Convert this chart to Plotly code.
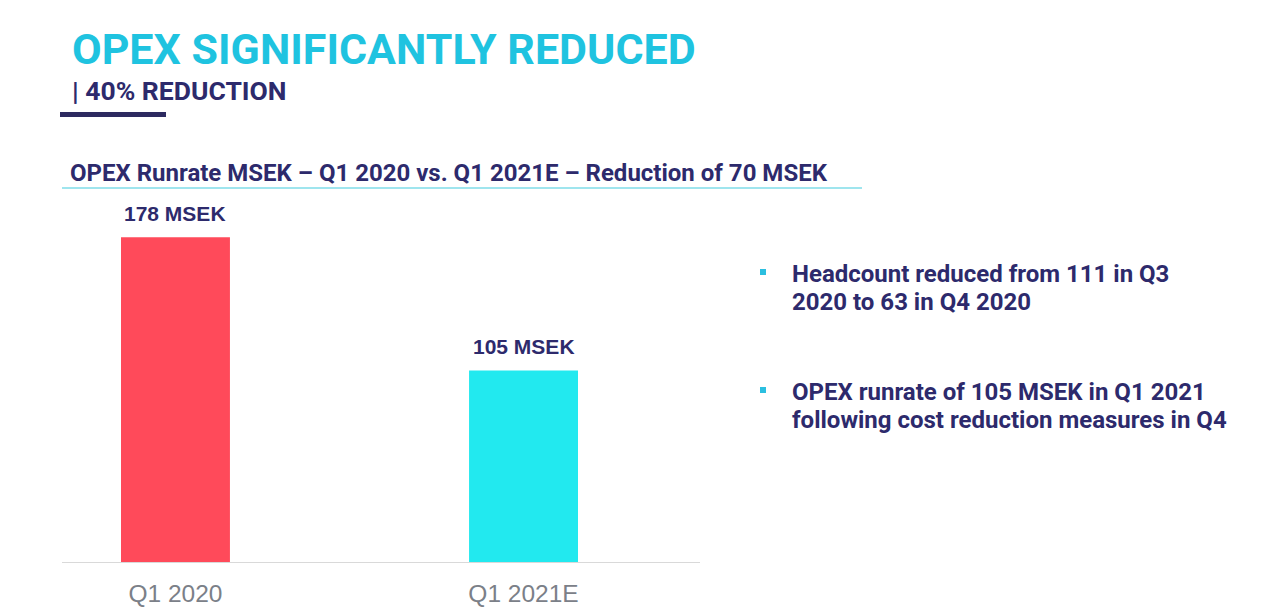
import plotly.graph_objects as go

# data
categories = ["Q1 2020", "Q1 2021E"]
opex_msek = [178, 105]
bar_colors = ["#ff4a5a", "#22e9ef"]
value_labels = ["178 MSEK", "105 MSEK"]

title = "OPEX SIGNIFICANTLY REDUCED"
subtitle = "| 40% REDUCTION"
chart_header = "OPEX Runrate MSEK \u2013 Q1 2020 vs. Q1 2021E \u2013 Reduction of 70 MSEK"
bullets = [
    ["Headcount reduced from 111 in Q3", "2020 to 63 in Q4 2020"],
    ["OPEX runrate of 105 MSEK in Q1 2021", "following cost reduction measures in Q4"],
]

NAVY = "#2d2a6c"
CYAN = "#1fc3e0"
W, H = 1270, 614
OFF = 8  # page body margin


def px(x):
    return (x - OFF) / W


def py(y):
    return 1 - (y - OFF) / H


fig = go.Figure(go.Bar(x=categories, y=opex_msek, marker_color=bar_colors,
                       marker_line_width=0, width=0.313))

# value labels above the bars
for c, v, t in zip(categories, opex_msek, value_labels):
    fig.add_annotation(x=c, y=v, text="<b>%s</b>" % t, showarrow=False,
                       yanchor="bottom", yshift=10,
                       font=dict(family="Liberation Sans", size=21, color=NAVY))

# headings
fig.add_annotation(x=px(70), y=py(22), xref="paper", yref="paper",
                   text="<b>%s</b>" % title, showarrow=False,
                   xanchor="left", yanchor="top",
                   font=dict(family="Roboto", size=43, color=CYAN))
fig.add_annotation(x=px(70), y=py(73), xref="paper", yref="paper",
                   text="<b>%s</b>" % subtitle, showarrow=False,
                   xanchor="left", yanchor="top",
                   font=dict(family="Roboto", size=26.5, color=NAVY))
fig.add_annotation(x=px(68), y=py(157), xref="paper", yref="paper",
                   text="<b>%s</b>" % chart_header, showarrow=False,
                   xanchor="left", yanchor="top",
                   font=dict(family="Roboto", size=24, color=NAVY))

# bullet points
for i, lines in enumerate(bullets):
    ytop = 258 + i * 118
    for j, line in enumerate(lines):
        fig.add_annotation(x=px(790), y=py(ytop + j * 28), xref="paper", yref="paper",
                           text="<b>%s</b>" % line, showarrow=False,
                           xanchor="left", yanchor="top",
                           font=dict(family="Roboto", size=24, color=NAVY))
    fig.add_shape(type="rect", xref="paper", yref="paper",
                  x0=px(760), x1=px(766), y0=py(ytop + 17), y1=py(ytop + 11),
                  fillcolor="#2bbfe0", line_width=0)

# decorative rules
fig.add_shape(type="rect", xref="paper", yref="paper",
              x0=px(60), x1=px(166), y0=py(117), y1=py(112),
              fillcolor="#2d2a60", line_width=0)
fig.add_shape(type="line", xref="paper", yref="paper",
              x0=px(62), x1=px(862), y0=py(188), y1=py(188),
              line=dict(color="#7fdce8", width=1.5))

fig.update_layout(
    width=W, height=H,
    margin=dict(l=0, r=0, t=0, b=0),
    paper_bgcolor="white", plot_bgcolor="white",
    showlegend=False,
    xaxis=dict(domain=[px(62), px(700)], range=[-0.326, 1.507],
               showgrid=False, showline=True, linecolor="#d9d9d9", linewidth=1,
               ticks="", ticklabelstandoff=10,
               tickfont=dict(family="Liberation Sans", size=24.5, color="#7b8088")),
    yaxis=dict(domain=[py(562), py(200)], range=[0, 198.4],
               visible=False),
)

fig.write_html("out.html")
